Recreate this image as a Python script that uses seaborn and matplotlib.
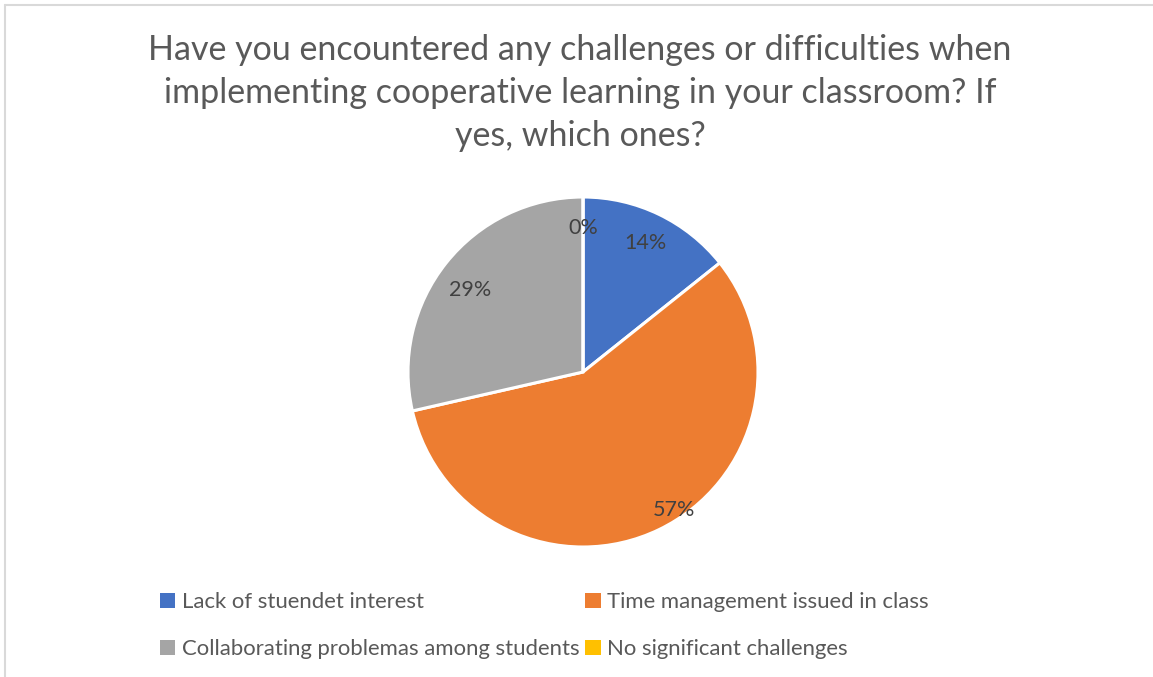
import numpy as np
import matplotlib
matplotlib.use("Agg")
import matplotlib.pyplot as plt
from matplotlib.patches import Patch
from matplotlib.lines import Line2D
import seaborn as sns

# Survey responses
categories = [
    "Lack of stuendet interest",
    "Time management issued in class",
    "Collaborating problemas among students",
    "No significant challenges",
]
responses = [1, 4, 2, 0]
colors = ["#4472C4", "#ED7D31", "#A5A5A5", "#FFC000"]
title = ("Have you encountered any challenges or difficulties when\n"
         "implementing cooperative learning in your classroom? If\n"
         "yes, which ones?")

sns.set_theme(style="white")
plt.rcParams["font.family"] = ["Lato", "DejaVu Sans"]

W, H = 1153, 677
fig = plt.figure(figsize=(W / 100, H / 100), dpi=100)
fig.patch.set_facecolor("white")

# Chart-area frame (top and left edges)
border = "#D9D9D9"
fig.add_artist(Line2D([5 / W, 5 / W], [0, 1 - 5 / H], transform=fig.transFigure,
                      color=border, lw=1.5))
fig.add_artist(Line2D([5 / W, 1], [1 - 5 / H, 1 - 5 / H], transform=fig.transFigure,
                      color=border, lw=1.5))

fig.text(580 / W, 1 - 34 / H, title, ha="center", va="top", fontsize=24.5,
         color="#595959", linespacing=1.42)

# Pie axes: centre (583, 372) px, radius 175 px
cx, cy, r = 583, 372, 175
ax = fig.add_axes([(cx - r) / W, 1 - (cy + r) / H, 2 * r / W, 2 * r / H])

wedges, _, autotexts = ax.pie(
    responses, colors=colors, startangle=90, counterclock=False, radius=1,
    autopct=lambda p: f"{p:.0f}%", pctdistance=0.82,
    wedgeprops=dict(edgecolor="white", linewidth=2.2),
    textprops=dict(fontsize=15.5, color="#404040"),
)
ax.set_xlim(-1, 1)
ax.set_ylim(-1, 1)
ax.axis("off")

# Excel-style best-fit placement for two of the slice labels
ang = np.deg2rad(-56.6)
autotexts[1].set_position((0.945 * np.cos(ang), 0.945 * np.sin(ang)))
autotexts[2].set_position((0.80 * np.cos(np.deg2rad(144)), 0.80 * np.sin(np.deg2rad(144))))

# Legend filled row-wise in two columns
handles = [Patch(facecolor=c, edgecolor="none") for c in colors]
order = [0, 2, 1, 3]
fig.legend([handles[i] for i in order], [categories[i] for i in order],
           ncol=2, loc="upper left", bbox_to_anchor=(160 / W, 1 - 592 / H),
           frameon=False, fontsize=15.9, labelcolor="#595959",
           handlelength=0.7, handleheight=0.7, handletextpad=0.3,
           columnspacing=0.25, labelspacing=1.23, borderaxespad=0, borderpad=0)

fig.savefig("out.png", dpi=100, facecolor="white")
